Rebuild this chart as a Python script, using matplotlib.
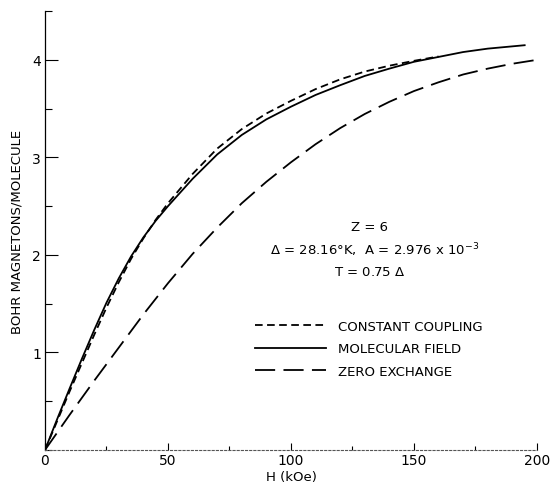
import matplotlib
matplotlib.use("Agg")
import matplotlib.pyplot as plt
from matplotlib.ticker import MultipleLocator

# magnetization vs field, Z = 6 ring model
h_mf = [0, 5, 10, 15, 20, 25, 30, 35, 40, 45, 50, 60, 70, 80, 90, 100, 110, 120, 130, 140,
        150, 160, 170, 180, 195]
m_mf = [0, 0.32, 0.63, 0.935, 1.23, 1.51, 1.76, 1.985, 2.18, 2.35, 2.50, 2.78, 3.03, 3.23,
        3.39, 3.52, 3.64, 3.74, 3.835, 3.91, 3.98, 4.03, 4.08, 4.115, 4.15]

h_cc = [0, 5, 10, 15, 20, 25, 30, 35, 40, 45, 50, 60, 70, 80, 90, 100, 110, 120, 130, 140,
        150, 160]
m_cc = [0, 0.30, 0.60, 0.89, 1.18, 1.46, 1.72, 1.96, 2.17, 2.36, 2.53, 2.83, 3.09, 3.29, 3.45,
        3.58, 3.70, 3.80, 3.88, 3.94, 3.99, 4.035]

h_ze = [0, 10, 20, 30, 40, 50, 60, 70, 80, 90, 100, 110, 120, 130, 140, 150, 160, 170, 180,
        190, 200]
m_ze = [0, 0.36, 0.71, 1.05, 1.39, 1.71, 2.01, 2.28, 2.53, 2.75, 2.95, 3.135, 3.30, 3.445,
        3.57, 3.68, 3.77, 3.85, 3.91, 3.96, 4.00]

x_major = [0, 50, 100, 150, 200]
y_major = [1, 2, 3, 4]

plt.rcParams["font.family"] = "DejaVu Sans"
plt.rcParams["lines.scale_dashes"] = False

fig = plt.figure(figsize=(5.5, 4.85), dpi=100)
ax = fig.add_axes([0.0818, 0.0701, 0.8945, 0.905])

lw = 1.3
ax.plot(h_cc, m_cc, color="black", lw=lw, dashes=(5.5, 3.2), label="CONSTANT COUPLING")
ax.plot(h_mf, m_mf, color="black", lw=lw, label="MOLECULAR FIELD")
ax.plot(h_ze, m_ze, color="black", lw=lw, dashes=(14.5, 6), label="ZERO EXCHANGE")

ax.set_xlim(0, 200)
ax.set_ylim(0, 4.5)

ax.spines["top"].set_visible(False)
ax.spines["right"].set_visible(False)
ax.spines["left"].set_linewidth(0.9)
ax.spines["bottom"].set_linewidth(0.8)
ax.spines["bottom"].set_linestyle((0, (1.5, 1.5)))
ax.spines["bottom"].set_color("#555555")

ax.set_xticks(x_major)
ax.set_xticklabels([str(v) for v in x_major])
ax.xaxis.set_minor_locator(MultipleLocator(25))
ax.set_yticks(y_major)
ax.set_yticklabels([str(v) for v in y_major])
ax.yaxis.set_minor_locator(MultipleLocator(0.5))

ax.tick_params(axis="x", which="major", direction="in", length=5, width=0.8, labelsize=10, pad=2)
ax.tick_params(axis="x", which="minor", direction="in", length=3, width=0.8)
ax.tick_params(axis="y", which="major", direction="in", length=9, width=0.8, labelsize=10, pad=3)
ax.tick_params(axis="y", which="minor", direction="in", length=5, width=0.8)

ax.set_xlabel("H (kOe)", fontsize=9.5, labelpad=2)
ax.set_ylabel("BOHR MAGNETONS/MOLECULE", fontsize=9.5, labelpad=6)

ax.text(132, 2.29, "Z = 6", ha="center", va="center", fontsize=9.5)
ax.text(134, 2.06, r"$\Delta$ = 28.16$\degree$K,  A = 2.976 x 10$^{-3}$",
        ha="center", va="center", fontsize=9.5)
ax.text(132, 1.83, r"T = 0.75 $\Delta$", ha="center", va="center", fontsize=9.5)

ax.legend(loc="upper left", bbox_to_anchor=(0.427, 0.296), frameon=False,
          fontsize=9.5, handlelength=5.4, handletextpad=0.85, labelspacing=0.7,
          borderpad=0, borderaxespad=0)

fig.savefig("out.png", dpi=100)
